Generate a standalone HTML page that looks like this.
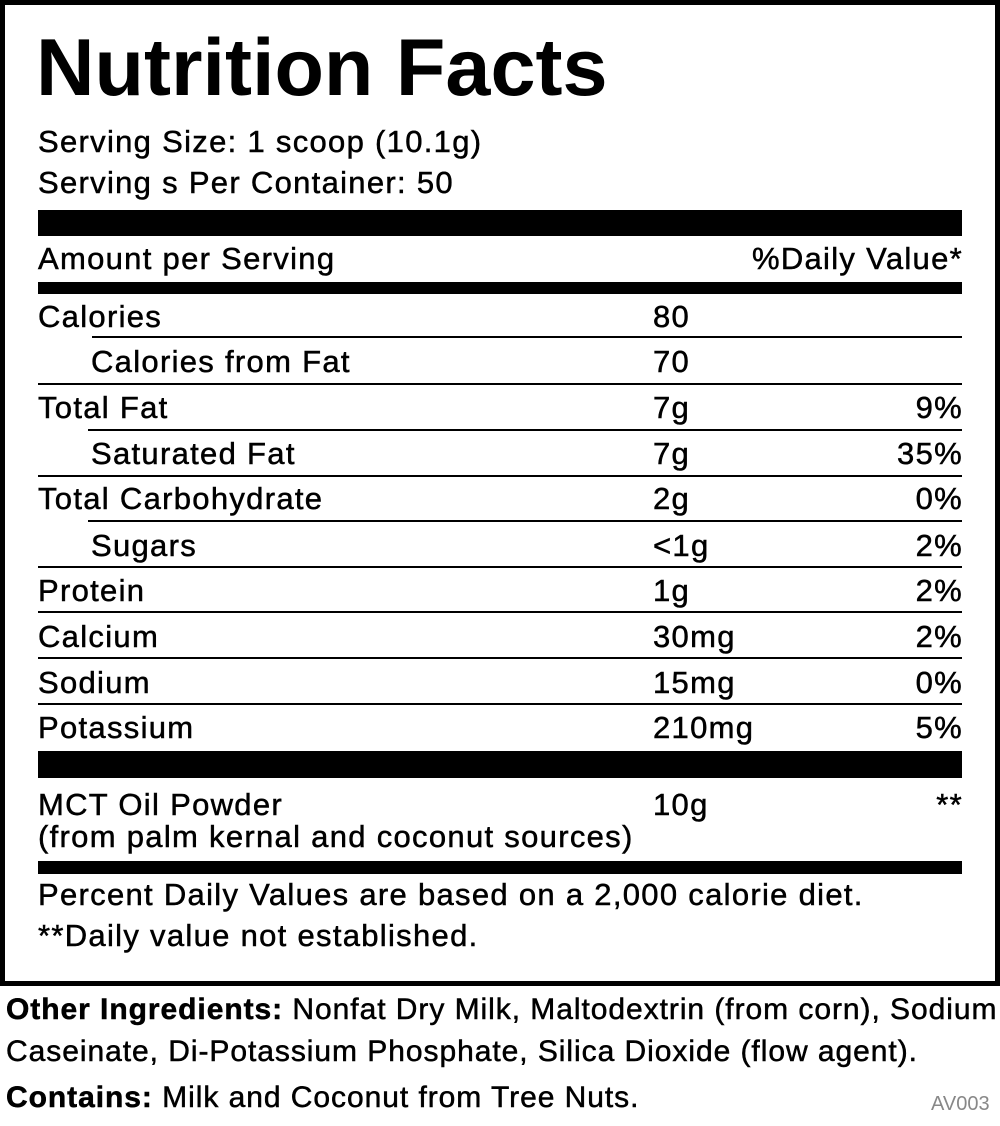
<!DOCTYPE html>
<html><head><style>
body{margin:0;background:#fff;}
#c{position:relative;width:1000px;height:1126px;font-family:"Liberation Sans",sans-serif;color:#000;overflow:hidden}
.box{position:absolute;left:0;top:0;width:990px;height:976px;border:5px solid #000}
.t,.r{position:absolute;white-space:nowrap;font-size:31px;line-height:1;letter-spacing:1.3px;-webkit-text-stroke:0.5px #000}
.r{right:37px;text-align:right}
.bar{position:absolute;left:38px;width:924px;background:#000}
.ln{position:absolute;right:38px;height:2px;background:#000}
.b{font-size:30px;letter-spacing:0.95px}
</style></head><body><div id="c">
<div class="box"></div>
<div class="t" style="left:36px;top:28px;font-size:81px;font-weight:bold;letter-spacing:0;-webkit-text-stroke:0">Nutrition Facts</div>
<div class="t" style="left:38px;top:126px">Serving Size: 1 scoop (10.1g)</div>
<div class="t" style="left:38px;top:167px">Serving s Per Container: 50</div>
<div class="bar" style="top:210px;height:26px"></div>
<div class="t" style="left:38px;top:243px">Amount per Serving</div>
<div class="r" style="top:243px">%Daily Value*</div>
<div class="bar" style="top:282px;height:12px"></div>

<div class="t" style="left:38px;top:301px">Calories</div><div class="t" style="left:653px;top:301px">80</div>
<div class="ln" style="left:92px;top:336px"></div>
<div class="t" style="left:91px;top:346px">Calories from Fat</div><div class="t" style="left:653px;top:346px">70</div>
<div class="ln" style="left:38px;top:383px"></div>
<div class="t" style="left:38px;top:392px">Total Fat</div><div class="t" style="left:653px;top:392px">7g</div><div class="r" style="top:392px">9%</div>
<div class="ln" style="left:88px;top:429px"></div>
<div class="t" style="left:91px;top:438px">Saturated Fat</div><div class="t" style="left:653px;top:438px">7g</div><div class="r" style="top:438px">35%</div>
<div class="ln" style="left:38px;top:475px"></div>
<div class="t" style="left:38px;top:483px">Total Carbohydrate</div><div class="t" style="left:653px;top:483px">2g</div><div class="r" style="top:483px">0%</div>
<div class="ln" style="left:88px;top:520px"></div>
<div class="t" style="left:91px;top:530px">Sugars</div><div class="t" style="left:653px;top:530px">&lt;1g</div><div class="r" style="top:530px">2%</div>
<div class="ln" style="left:38px;top:566px"></div>
<div class="t" style="left:38px;top:575px">Protein</div><div class="t" style="left:653px;top:575px">1g</div><div class="r" style="top:575px">2%</div>
<div class="ln" style="left:38px;top:611px"></div>
<div class="t" style="left:38px;top:621px">Calcium</div><div class="t" style="left:653px;top:621px">30mg</div><div class="r" style="top:621px">2%</div>
<div class="ln" style="left:38px;top:657px"></div>
<div class="t" style="left:38px;top:667px">Sodium</div><div class="t" style="left:653px;top:667px">15mg</div><div class="r" style="top:667px">0%</div>
<div class="ln" style="left:38px;top:703px"></div>
<div class="t" style="left:38px;top:712px">Potassium</div><div class="t" style="left:653px;top:712px">210mg</div><div class="r" style="top:712px">5%</div>
<div class="bar" style="top:751px;height:27px"></div>
<div class="t" style="left:38px;top:789px">MCT Oil Powder</div><div class="t" style="left:653px;top:789px">10g</div><div class="r" style="top:789px">**</div>
<div class="t" style="left:38px;top:821px">(from palm kernal and coconut sources)</div>
<div class="bar" style="top:861px;height:13px"></div>
<div class="t" style="left:38px;top:879px">Percent Daily Values are based on a 2,000 calorie diet.</div>
<div class="t" style="left:38px;top:920px">**Daily value not established.</div>

<div class="t b" style="left:6px;top:995px"><b>Other Ingredients:</b> Nonfat Dry Milk, Maltodextrin (from corn), Sodium</div>
<div class="t b" style="left:6px;top:1037px">Caseinate, Di-Potassium Phosphate, Silica Dioxide (flow agent).</div>
<div class="t b" style="left:6px;top:1083px"><b>Contains:</b> Milk and Coconut from Tree Nuts.</div>
<div class="t" style="left:931px;top:1094px;font-size:20px;letter-spacing:0;-webkit-text-stroke:0;color:#888">AV003</div>
</div></body></html>
